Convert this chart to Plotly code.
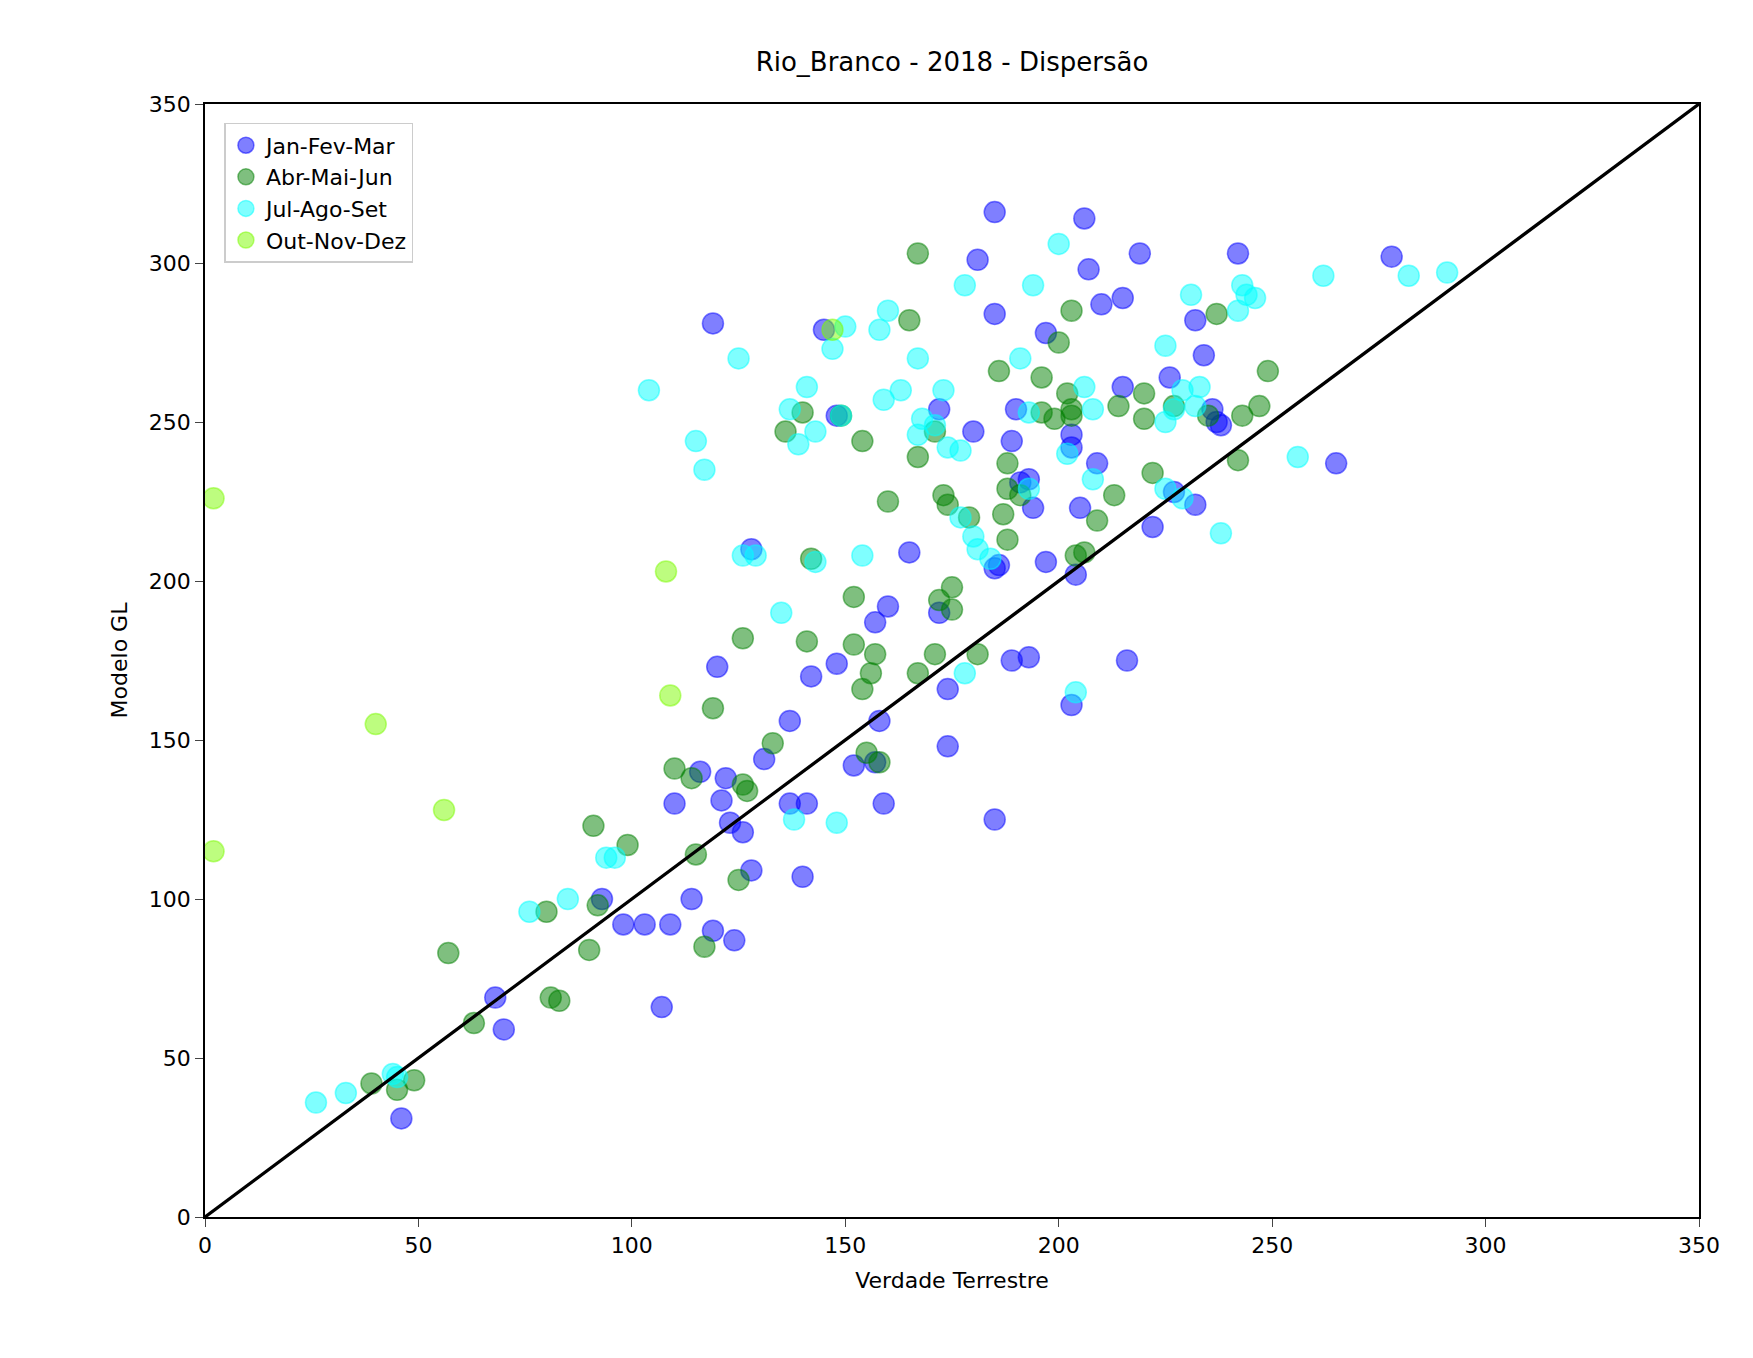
import plotly.graph_objects as go

# Jan-Fev-Mar
jfm_x = [185,206,181,219,242,207,210,215,119,185,145,232,234,197,215,226,190,172,148,236,237,238,180,189,203,203,209,265,191,193,194,205,227,232,222,128,165,185,186,197,204,160,172,157,120,148,142,189,193,216,174,203,158,137,174,116,152,157,131,122,121,110,137,141,159,185,123,126,128,140,93,114,98,103,109,119,124,107,68,70,46,278]
jfm_y = [316,314,301,303,303,298,287,289,281,284,279,282,271,278,261,264,254,254,252,254,250,249,247,244,246,242,237,237,231,232,223,223,228,224,217,210,209,204,205,206,202,192,190,187,173,174,170,175,176,175,166,161,156,156,148,140,142,143,144,138,131,130,130,130,130,125,124,121,109,107,100,100,92,92,92,90,87,66,69,59,31,302]
# Abr-Mai-Jun
amj_x = [167,165,200,203,237,249,186,196,202,149,140,136,154,167,171,196,199,203,203,214,220,220,227,235,243,247,242,188,188,191,213,222,160,173,174,179,187,188,209,204,206,142,175,172,175,152,126,141,152,157,171,181,167,156,154,119,133,110,114,126,127,155,158,115,91,99,125,92,90,117,80,57,81,83,63,39,45,49]
amj_y = [303,282,275,285,284,266,266,264,259,252,253,247,244,239,247,253,251,252,254,255,259,251,255,252,252,255,238,237,229,227,227,234,225,227,224,220,221,213,219,208,209,207,198,194,191,195,182,181,180,177,177,177,171,171,166,160,149,141,138,136,134,146,143,114,123,117,106,98,84,85,96,83,69,68,61,42,40,43]
# Jul-Ago-Set
jas_x = [282,291,262,200,194,178,231,243,244,246,242,160,158,150,147,125,167,225,191,141,163,173,206,104,233,229,137,159,193,208,225,227,232,168,171,167,143,149,139,115,117,174,177,202,208,256,225,229,193,177,180,238,181,184,126,129,143,154,135,178,204,138,148,94,96,85,76,26,33,44,45]
jas_y = [296,297,296,306,293,293,290,293,290,289,285,285,279,280,273,270,270,274,270,261,260,260,261,260,261,260,254,257,253,254,250,254,255,251,249,246,247,252,243,244,235,242,241,240,232,239,229,226,229,220,214,215,210,207,208,208,206,208,190,171,165,125,124,113,113,100,96,36,39,45,44]
# Out-Nov-Dez
ond_x = [2, 2, 108, 109, 40, 56, 147]
ond_y = [226, 115, 203, 164, 155, 128, 279]

line_x = [0, 350]
line_y = [0, 350]

series = [
    ("Jan-Fev-Mar", jfm_x, jfm_y, "rgba(0,0,255,0.5)"),
    ("Abr-Mai-Jun", amj_x, amj_y, "rgba(0,128,0,0.5)"),
    ("Jul-Ago-Set", jas_x, jas_y, "rgba(0,255,255,0.5)"),
    ("Out-Nov-Dez", ond_x, ond_y, "rgba(124,252,0,0.5)"),
]

fig = go.Figure()
for name, xs, ys, col in series:
    fig.add_trace(go.Scatter(x=xs, y=ys, mode="markers", name=name,
                             marker=dict(size=21, color=col, line=dict(width=1.5, color=col))))
fig.add_trace(go.Scatter(x=line_x, y=line_y, mode="lines", showlegend=False,
                         line=dict(color="black", width=3.3)))

axis = dict(range=[0, 350], dtick=50, showgrid=False, zeroline=False, showline=True,
            linecolor="black", linewidth=1.6, mirror=True, ticks="outside", ticklen=8,
            tickfont=dict(size=22, color="black"))
fig.update_layout(
    width=1753, height=1358, plot_bgcolor="white", paper_bgcolor="white",
    font=dict(family="DejaVu Sans", color="black"),
    margin=dict(l=197, r=62, t=96, b=149),
    title=dict(text="Rio_Branco - 2018 - Dispersão", x=(197 + 1691) / 2 / 1753, xanchor="center",
               y=1 - 54/1358, yanchor="middle", font=dict(size=26)),
    xaxis=dict(axis, title=dict(text="Verdade Terrestre", font=dict(size=22))),
    yaxis=dict(axis, title=dict(text="Modelo GL", font=dict(size=22))),
    legend=dict(x=0.013, y=0.983, xanchor="left", yanchor="top", bordercolor="#cccccc",
                borderwidth=1.5, bgcolor="white", font=dict(size=22), itemsizing="trace",
                tracegroupgap=22),
)
fig.write_html("out.html")
